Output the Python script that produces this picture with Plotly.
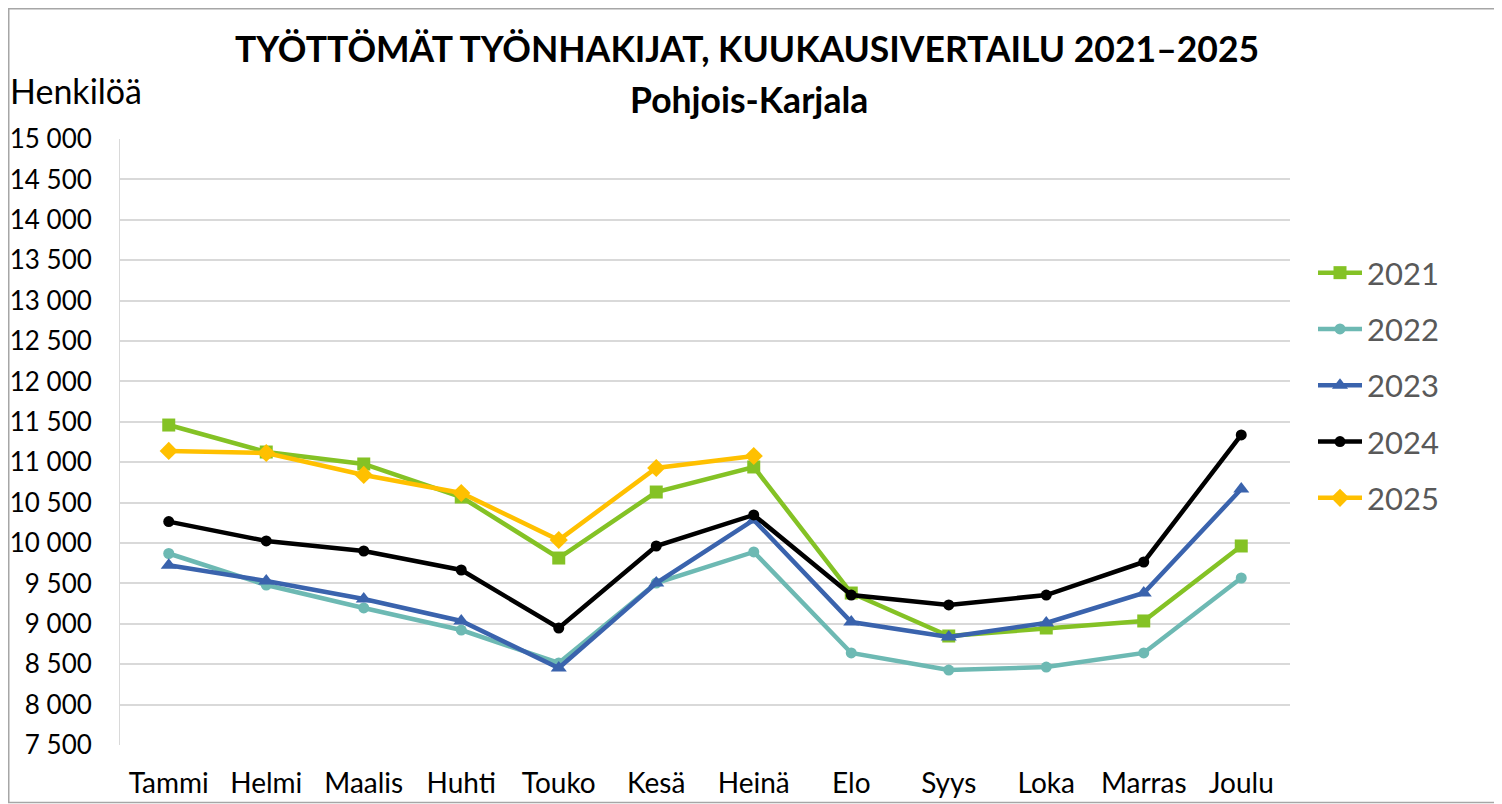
import plotly.graph_objects as go

months = ["Tammi", "Helmi", "Maalis", "Huhti", "Touko", "Kesä", "Heinä",
          "Elo", "Syys", "Loka", "Marras", "Joulu"]

y2021 = [11460, 11126, 10978, 10569, 9814, 10631, 10941, 9381, 8849, 8948, 9035, 9963]
y2022 = [9870, 9480, 9196, 8923, 8515, 9505, 9889, 8639, 8428, 8465, 8639, 9567]
y2023 = [9725, 9530, 9307, 9035, 8453, 9505, 10285, 9022, 8837, 9010, 9381, 10668]
y2024 = [10265, 10025, 9901, 9666, 8948, 9963, 10347, 9356, 9233, 9356, 9765, 11337]
y2025 = [11140, 11114, 10842, 10619, 10037, 10928, 11077]

series = [
    ("2021", y2021, "#84C225", "square", 13),
    ("2022", y2022, "#6DB9B3", "circle", 11),
    ("2023", y2023, "#3A63AD", "triangle-up", 14),
    ("2024", y2024, "#000000", "circle", 11),
    ("2025", y2025, "#FFC000", "diamond", 14),
]

fig = go.Figure()
for name, vals, color, sym, sz in series:
    fig.add_trace(go.Scatter(
        x=months[:len(vals)], y=vals, name=name, legendgroup=name,
        mode="lines+markers",
        line=dict(color=color, width=4.5),
        marker=dict(symbol=sym, size=sz, color=color),
    ))

# figure is offset 8px in the page by the body margin
W, H = 1494, 796
L, R, T, B = 112, 212, 131, 59
pw, ph = W - L - R, H - T - B

def px(xf):
    return (xf - L) / pw

def py(yf):
    return 1 - (yf - T) / ph

fig.update_layout(
    width=W, height=H,
    margin=dict(l=L, r=R, t=T, b=B, autoexpand=False),
    paper_bgcolor="white", plot_bgcolor="white",
    separators=", ",
    font=dict(family="Lato, Open Sans, sans-serif", color="#000000"),
    showlegend=True,
    legend=dict(x=px(1305), y=py(238), xanchor="left", yanchor="top",
                font=dict(size=31, color="#595959"),
                itemwidth=44, tracegroupgap=13, bgcolor="rgba(0,0,0,0)"),
    xaxis=dict(categoryorder="array", categoryarray=months,
               range=[-0.5, len(months) - 0.5],
               showgrid=False, showline=False, zeroline=False, automargin=False,
               tickfont=dict(size=28), ticks="", ticklabelstandoff=19),
    yaxis=dict(range=[7500, 15000], dtick=500, tickformat=",d", automargin=False,
               showgrid=True, gridcolor="#D9D9D9", gridwidth=2,
               showline=True, linecolor="#D9D9D9", linewidth=1,
               zeroline=False, ticks="", tickfont=dict(size=26),
               ticklabelstandoff=22),
)

fig.add_annotation(
    text="<b>TYÖTTÖMÄT TYÖNHAKIJAT, KUUKAUSIVERTAILU 2021–2025</b>",
    xref="paper", yref="paper", x=px(739), y=py(40),
    xanchor="center", yanchor="middle", showarrow=False,
    font=dict(size=35.5, color="#000000"))
fig.add_annotation(
    text="<b>Pohjois-Karjala</b>",
    xref="paper", yref="paper", x=px(741), y=py(92),
    xanchor="center", yanchor="middle", showarrow=False,
    font=dict(size=35.5, color="#000000"))

fig.add_annotation(
    text="Henkilöä", xref="paper", yref="paper",
    x=px(0), y=py(82), xanchor="left", yanchor="middle",
    showarrow=False, font=dict(size=34, color="#000000"))

fig.add_shape(type="rect", xref="paper", yref="paper",
              x0=px(0.75), x1=px(1492), y0=py(794.5), y1=py(0.75),
              line=dict(color="#A6A6A6", width=1.5))

fig.write_html("out.html")
